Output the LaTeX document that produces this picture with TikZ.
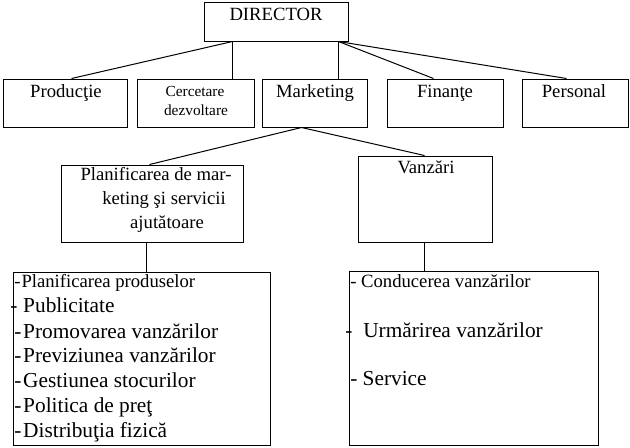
\documentclass[tikz,border=0pt]{standalone}
\usepackage{fontspec}
\setmainfont{Liberation Serif}
\usetikzlibrary{fit,calc}
\begin{document}
\begin{tikzpicture}[x=0.75pt,y=-0.75pt,
  orgbox/.style={draw, line width=0.75pt, inner sep=0pt},
  conn/.style={line width=0.75pt},
  lbl/.style={inner sep=0pt, anchor=base, font=\fontsize{14}{16}\selectfont},
  smalllbl/.style={inner sep=0pt, anchor=base, font=\fontsize{11.5}{13}\selectfont},
  item/.style={inner sep=0pt, anchor=base west, font=\fontsize{16}{18}\selectfont},
  itemsm/.style={inner sep=0pt, anchor=base west, font=\fontsize{14}{16}\selectfont}]
\useasboundingbox (0,0) rectangle (630,447);
% boxes
\node[orgbox, fit={(204,2) (348,41)}] (dir) {};
\node[orgbox, fit={(3,79) (127,127)}] (prod) {};
\node[orgbox, fit={(137,79) (254,127)}] (cerc) {};
\node[orgbox, fit={(262,79) (367,127)}] (mkt) {};
\node[orgbox, fit={(387,79) (503,127)}] (fin) {};
\node[orgbox, fit={(522,79) (628,127)}] (pers) {};
\node[orgbox, fit={(61,165) (243,242)}] (plan) {};
\node[orgbox, fit={(358,156) (492,242)}] (vanz) {};
\node[orgbox, fit={(13,272) (270,445)}] (listL) {};
\node[orgbox, fit={(349,271) (598,445)}] (listR) {};
% connectors
\draw[conn] ($(dir.south west)+(29,0)$) -- ($(prod.north west)+(69,0)$);
\draw[conn] ($(dir.south west)+(29,0)$) -- ($(cerc.north west)+(96,0)$);
\draw[conn] ($(dir.south west)+(135,0)$) -- ($(mkt.north west)+(77,0)$);
\draw[conn] ($(dir.south west)+(135,0)$) -- ($(fin.north west)+(47,0)$);
\draw[conn] ($(dir.south west)+(135,0)$) -- ($(pers.north west)+(45,0)$);
\draw[conn] ($(mkt.south west)+(40,0)$) -- ($(plan.north west)+(89,0)$);
\draw[conn] ($(mkt.south west)+(40,0)$) -- ($(vanz.north west)+(67,0)$);
\draw[conn] ($(plan.south west)+(86,0)$) -- ($(listL.north west)+(134,0)$);
\draw[conn] ($(vanz.south west)+(67,0)$) -- ($(listR.north west)+(76,0)$);
% labels
\node[lbl] (tdir) at (276,20) {DIRECTOR};
\node[lbl] (tprod) at (66,97) {Producţie};
\node[smalllbl] (tcerc1) at (195,96) {Cercetare};
\node[smalllbl] (tcerc2) at (196,115) {dezvoltare};
\node[lbl] (tmkt) at (315,97) {Marketing};
\node[lbl] (tfin) at (445,97) {Finanţe};
\node[lbl] (tpers) at (574,97) {Personal};
\node[lbl] (tplan1) at (156,180) {Planificarea de mar-};
\node[lbl] (tplan2) at (164,204) {keting şi servicii};
\node[lbl] (tplan3) at (167,228) {ajutătoare};
\node[lbl] (tvanz) at (426,173) {Vanzări};
% left list
\node[itemsm] (l1) at (14,287) {-\kern0.8pt Planificarea produselor};
\node[item] (l2) at (10,312) {-\kern4.4pt Publicitate};
\node[item] (l3) at (14,338) {-\kern1.4pt Promovarea vanzărilor};
\node[item] (l4) at (14,362) {-\kern1.4pt Previziunea vanzărilor};
\node[item] (l5) at (14,387) {-\kern1.4pt Gestiunea stocurilor};
\node[item] (l6) at (14,412) {-\kern1.4pt Politica de preţ};
\node[item] (l7) at (14,437) {-\kern1.4pt Distribuţia fizică};
% right list
\node[itemsm] (r1) at (350,287) {- Conducerea vanzărilor};
\node[item] (r2) at (345,337) {-\kern8.2pt Urmărirea vanzărilor};
\node[item] (r3) at (350,385) {- Service};
\end{tikzpicture}
\end{document}
